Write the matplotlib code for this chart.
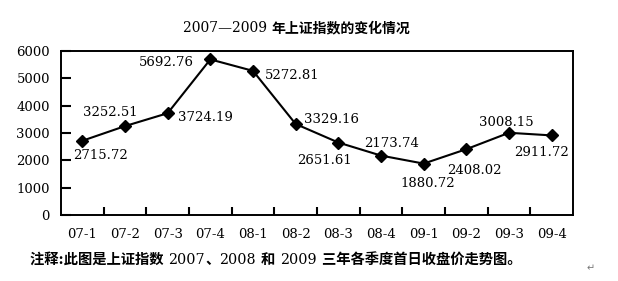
import matplotlib
matplotlib.use("Agg")
import matplotlib.pyplot as plt

quarters = ["07-1", "07-2", "07-3", "07-4", "08-1", "08-2", "08-3", "08-4",
            "09-1", "09-2", "09-3", "09-4"]
values = [2715.72, 3252.51, 3724.19, 5692.76, 5272.81, 3329.16, 2651.61,
          2173.74, 1880.72, 2408.02, 3008.15, 2911.72]
yticks = [0, 1000, 2000, 3000, 4000, 5000, 6000]
title_parts = [("2007—2009 ", "normal"), ("年上证指数的变化情况", "bold")]
note_parts = [("注释:此图是上证指数 ", "bold"), ("2007", "normal"), ("、", "bold"),
              ("2008", "normal"), (" 和 ", "bold"), ("2009", "normal"),
              (" 三年各季度首日收盘价走势图。", "bold")]

# label offsets in pixels (dx, dy) from each point
offsets = [(18, -15), (-15, 14), (38, -4), (-44, -3), (39, -5), (36, 5),
           (-14, -18), (11, 12), (4, -20), (8, -21), (-3, 10), (-10, -17)]

serif = ["DejaVu Serif"]
mixed = ["DejaVu Serif", "Noto Sans CJK SC"]

fig = plt.figure(figsize=(6.18, 2.81), dpi=100)
ax = fig.add_axes([61/618, 1-215/281, (573-61)/618, (215-51)/281])

x = list(range(len(quarters)))
ax.plot(x, values, color="black", lw=1.5, marker="D", ms=6.3,
        markerfacecolor="black", markeredgecolor="black")

for xi, v, (dx, dy) in zip(x, values, offsets):
    ax.annotate(f"{v:.2f}", (xi, v), xytext=(dx, dy), textcoords="offset pixels",
                ha="center", va="center", fontsize=9.5, family=serif, color="black")

ax.set_xlim(-0.5, 11.5)
ax.set_ylim(0, 6000)
ax.set_yticks(yticks)
ax.set_yticklabels([str(t) for t in yticks], family=serif, fontsize=9.5)
ax.set_xticks(x)
ax.set_xticklabels(quarters, family=serif, fontsize=9.5)
ax.set_xticks([i + 0.5 for i in range(len(quarters) - 1)], minor=True)
ax.tick_params(axis="x", which="major", length=0, pad=9)
ax.tick_params(axis="x", which="minor", direction="in", length=6, width=1.5)
ax.tick_params(axis="y", which="major", direction="in", length=7, width=1.5, pad=8)
for s in ax.spines.values():
    s.set_linewidth(1.4)
    s.set_color("black")

renderer = fig.canvas.get_renderer()


def seq_text(parts, x0_px, y_px, size, center=False):
    texts = []
    widths = []
    for s, w in parts:
        t = fig.text(0, 1 - y_px/281, s, ha="left", va="center", fontsize=size,
                     family=mixed, fontweight=w)
        bb = t.get_window_extent(renderer)
        # include trailing/leading spaces approximately
        texts.append(t)
        widths.append(bb.width)
    total = sum(widths)
    x = x0_px - total/2 if center else x0_px
    for t, w in zip(texts, widths):
        t.set_x(x/618)
        x += w


seq_text(title_parts, 297, 28, 10, center=True)
seq_text(note_parts, 30, 260, 10.3)
fig.text(591/618, 1-268/281, "↵", ha="center", va="center", fontsize=7,
         family=["DejaVu Sans"], color="#777777")

fig.savefig("out.png", dpi=100, facecolor="white")
